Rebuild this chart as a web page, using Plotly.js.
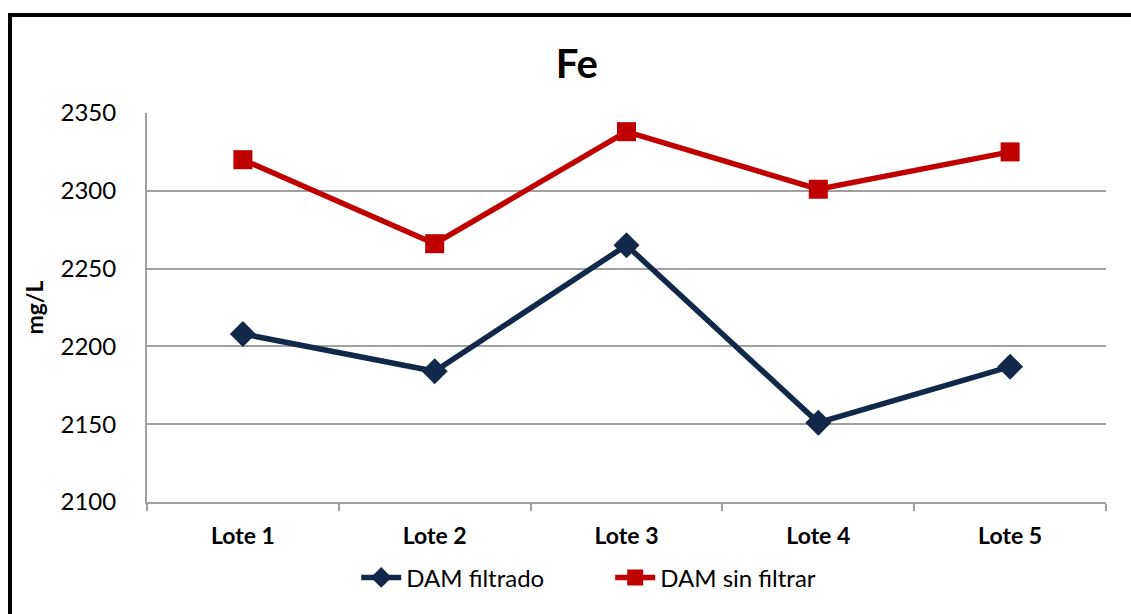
<!DOCTYPE html>
<html>
<head>
<meta charset="utf-8">
<script src="https://cdn.plot.ly/plotly-3.0.1.min.js"></script>
<style>
  html, body { margin: 0; padding: 0; background: #fff; overflow: hidden; }
  #chart { width: 1131px; height: 614px; }
  #frame { position: absolute; left: 8px; top: 13px; width: 1200px; height: 700px;
           border-left: 4px solid #000; border-top: 4px solid #000; pointer-events: none; }
</style>
</head>
<body>
<div id="chart"></div>
<div id="frame"></div>
<script>
const categories = ["Lote 1", "Lote 2", "Lote 3", "Lote 4", "Lote 5"];
const filtrado = [2208, 2184, 2265, 2151, 2187];
const sinFiltrar = [2320, 2266, 2338, 2301, 2325];
const yTicks = [2100, 2150, 2200, 2250, 2300, 2350];

const font = "Lato, 'Open Sans', sans-serif";

const traces = [
  {
    x: categories, y: filtrado, name: "DAM filtrado", type: "scatter", mode: "lines+markers",
    line: { color: "#12284A", width: 5.5 },
    marker: { symbol: "diamond", size: 20, color: "#12284A" }
  },
  {
    x: categories, y: sinFiltrar, name: "DAM sin filtrar", type: "scatter", mode: "lines+markers",
    line: { color: "#C00000", width: 5.5 },
    marker: { symbol: "square", size: 19, color: "#C00000" }
  }
];

const layout = {
  width: 1131, height: 614,
  margin: { l: 147, r: 25, t: 113, b: 112 },
  paper_bgcolor: "#fff", plot_bgcolor: "#fff",
  font: { family: font, color: "#000" },
  title: { text: "<b>Fe</b>", font: { size: 40, family: font, color: "#000" }, x: 0.51, xanchor: "center", y: 0.895, yanchor: "middle" },
  xaxis: {
    type: "category", range: [-0.5, 4.5], autorange: false,
    tickson: "boundaries", ticks: "outside", ticklen: 7, tickcolor: "#A0A0A0", tickwidth: 2,
    showgrid: false, showline: true, linecolor: "#A0A0A0", linewidth: 2,
    tickfont: { size: 23, family: font, color: "#000", weight: "bold" },
    ticklabelstandoff: 12,
    zeroline: false
  },
  yaxis: {
    range: [2100, 2350], tickvals: yTicks, ticktext: yTicks.map(String),
    showgrid: true, gridcolor: "#A0A0A0", gridwidth: 2,
    showline: true, linecolor: "#A0A0A0", linewidth: 2,
    ticks: "", ticklabelstandoff: 24,
    tickfont: { size: 24, family: font, color: "#000" },
    title: { text: "<b>mg/L</b>", font: { size: 23, family: font, color: "#000" }, standoff: 10 },
    zeroline: false
  },
  showlegend: true,
  legend: {
    orientation: "h", x: 0.483, xanchor: "center", y: -0.195, yanchor: "middle",
    font: { size: 24, family: font, color: "#000" }, itemwidth: 40, entrywidth: 199,
    bgcolor: "rgba(0,0,0,0)"
  }
};

Plotly.newPlot("chart", traces, layout, { displayModeBar: false, staticPlot: true });
</script>
</body>
</html>
